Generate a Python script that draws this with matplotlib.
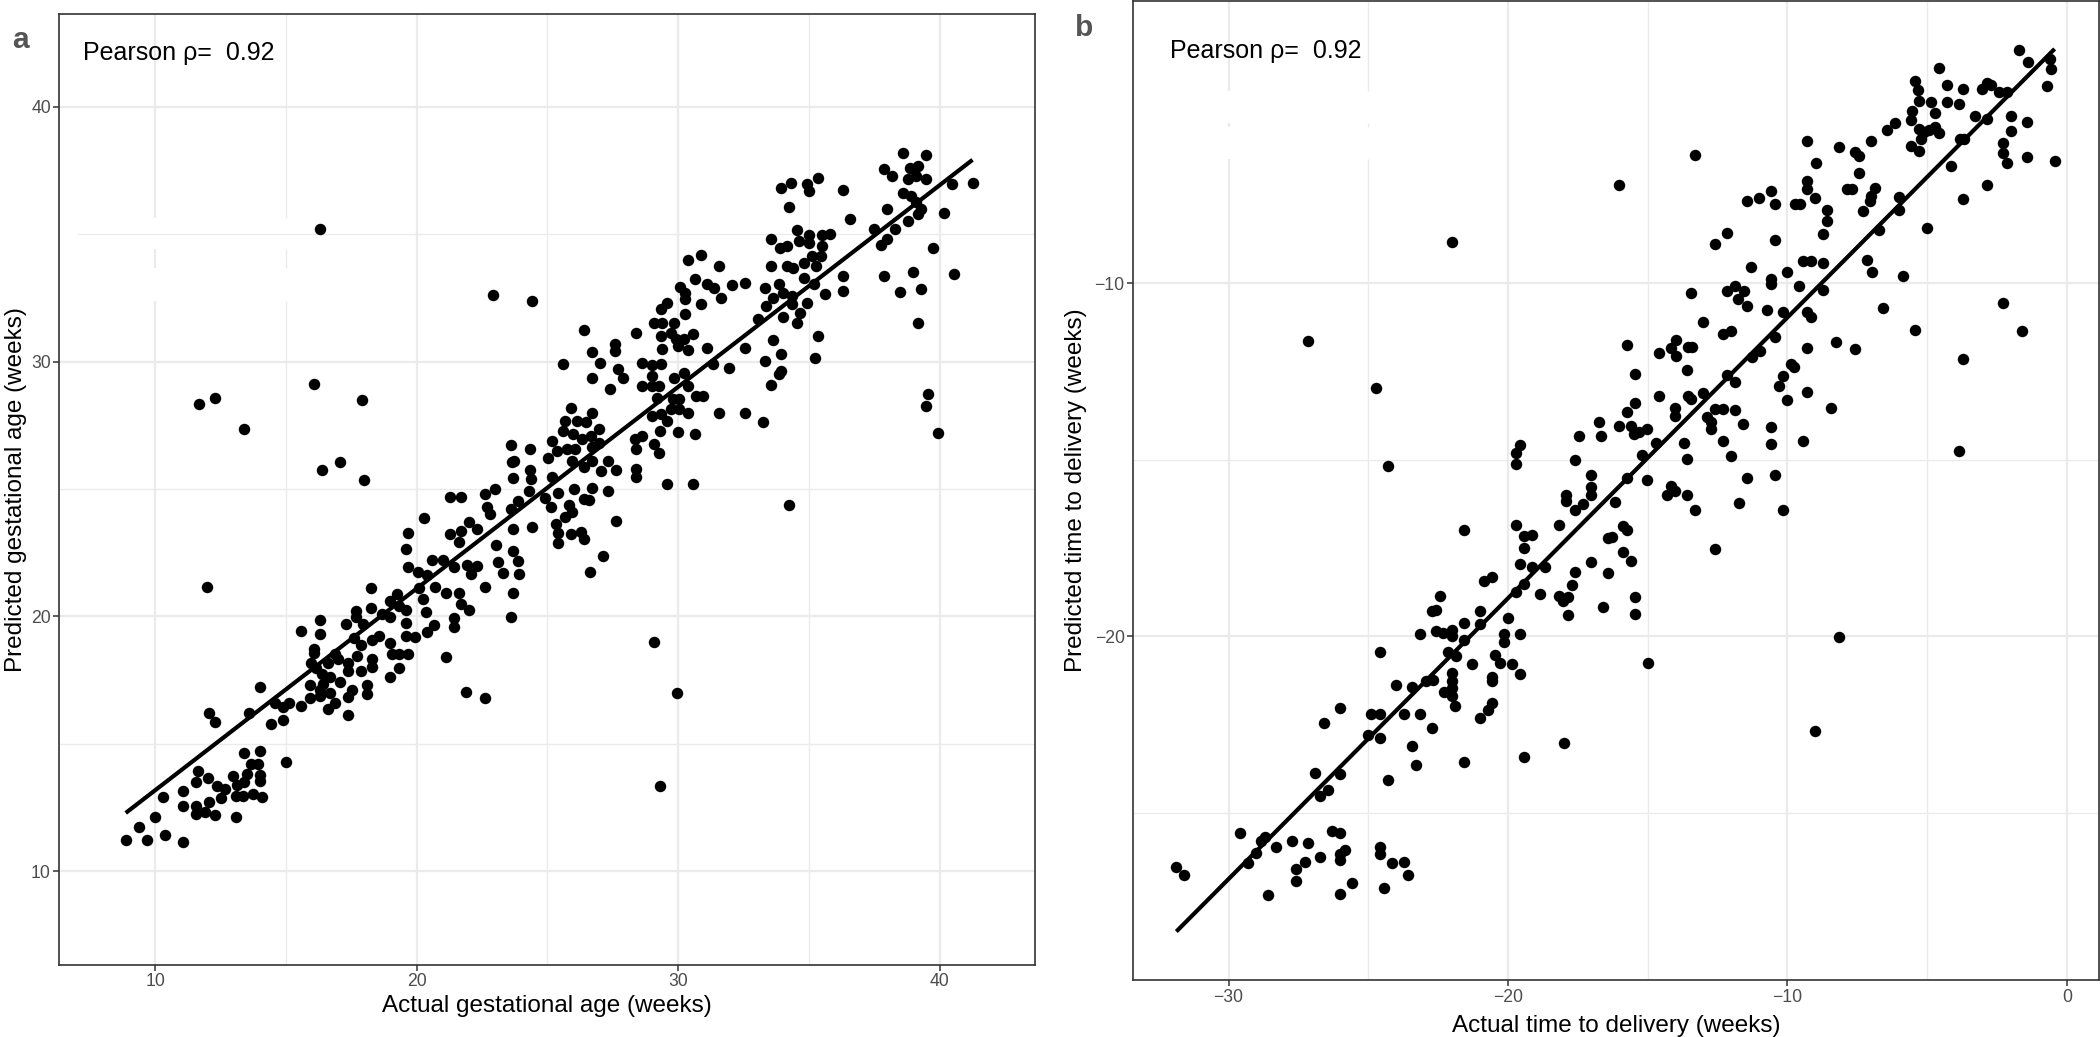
import numpy as np
import matplotlib
matplotlib.use("Agg")
import matplotlib.pyplot as plt

plt.rcParams['font.family'] = ['Liberation Sans', 'DejaVu Sans']

# ---------------- Panel a: gestational age ----------------
a_actual = [
    16.29, 11.68, 12.30, 13.39, 16.09, 17.89, 16.39, 17.08, 17.98, 22.90, 24.41, 23.60, 23.64, 23.71, 23.69,
    38.59, 39.47, 37.89, 38.19, 38.85, 39.17, 38.78, 39.11, 39.47, 40.48, 41.26, 38.59, 38.89, 39.11, 38.00,
    39.30, 39.17, 40.15, 37.48, 38.29, 38.78, 38.00, 37.76, 39.76, 37.89, 38.98, 38.48, 39.28, 40.54, 39.17,
    39.56, 39.47, 39.95,
    33.93, 34.32, 34.91, 35.00, 35.33, 36.30, 34.23, 36.59, 34.54, 33.54, 33.89, 34.15, 35.00, 35.52, 35.82,
    34.61, 35.00, 35.52, 33.54, 34.15, 34.41, 34.80, 35.13, 35.46, 35.26, 34.80, 35.20, 36.30, 36.30, 35.63,
    33.85, 33.34, 34.02, 33.63, 34.35, 33.37, 34.35, 34.93, 34.65, 34.02, 34.54, 33.04, 35.33, 33.63, 35.22,
    32.55, 33.34, 33.92, 33.92, 33.85, 33.54, 33.24,
    30.37, 30.87, 31.55, 30.66, 31.09, 31.39, 32.07, 32.55, 30.07, 30.27, 30.27, 30.87, 31.65, 29.59, 29.33,
    30.27, 29.07, 29.39, 29.85, 28.39, 29.33, 29.72, 29.92, 30.57, 30.24, 29.39, 29.98, 30.37, 31.09, 26.40,
    27.58, 27.58, 26.69, 27.00, 25.61, 28.61, 29.00, 29.33, 27.70, 27.89, 26.69, 27.40, 28.61, 29.00, 29.00,
    29.26, 29.85, 30.24, 30.37, 31.35, 31.94, 29.20, 29.79, 30.05, 30.70, 30.96, 29.00, 29.33, 29.72, 29.59,
    30.05, 30.37, 31.55, 32.55, 29.29, 29.98, 30.66, 28.35, 28.61, 28.39, 29.07, 29.26, 28.39, 28.39, 29.59,
    30.57,
    25.91, 25.68, 26.13, 26.46, 25.61, 25.98, 26.72, 26.98, 26.33, 26.66, 25.16, 24.35, 25.03, 25.35, 25.74,
    26.07, 26.72, 26.98, 25.94, 26.40, 26.72, 27.05, 27.31, 27.63, 24.35, 24.37, 25.16, 26.00, 25.42, 26.72,
    27.31,
    24.90, 25.13, 25.81, 25.94, 25.68, 25.33, 25.42, 25.42, 25.91, 26.30, 26.40, 26.40, 26.59, 27.61, 27.11,
    26.62, 34.24, 29.09, 29.97, 29.29,
    8.87, 9.37, 9.67, 9.99, 10.38, 11.08, 10.29, 11.08, 11.08, 11.57, 11.57, 11.90, 12.28, 12.04, 11.65,
    11.57, 12.03, 12.36, 12.66, 12.53, 13.07, 13.07, 12.99, 13.13, 13.39, 13.50, 13.39, 13.65, 14.01, 14.01,
    14.01, 13.36, 13.72, 14.08, 13.92, 11.98, 12.07, 12.30, 13.59, 14.01, 14.41, 14.58, 14.88, 14.88, 15.11,
    14.99, 15.58, 15.58, 16.29, 16.29, 16.07, 16.07, 15.96, 16.16, 16.36, 15.90, 15.90, 16.29, 16.32, 16.43,
    16.69, 16.69, 16.60, 16.62, 16.89, 17.08, 16.89, 16.99, 17.28, 17.39, 17.39, 17.39, 17.39, 17.51, 17.61,
    17.68, 17.68, 17.70, 17.88, 17.94, 17.88, 18.10, 18.10, 18.27, 18.27, 18.30, 18.30, 18.30, 18.54, 18.69,
    18.99, 18.99, 18.99, 18.99, 19.06, 19.26, 19.33, 19.33, 19.33, 19.59, 19.59, 19.59, 19.66, 19.59, 19.68,
    19.68, 19.92, 20.05, 20.09, 20.25, 20.29, 20.34, 20.38, 20.58, 20.65, 20.71, 20.40, 21.02, 21.11, 21.11,
    21.28, 21.68, 21.28, 21.41, 21.41, 21.41, 21.60, 21.60, 21.70, 21.70, 21.90, 21.99, 21.99, 21.92, 22.07,
    22.30, 22.32, 22.60, 22.60, 22.60, 22.69, 22.82, 22.98, 23.02, 23.11, 23.31, 23.60, 23.67, 23.67, 23.67,
    23.62, 23.88, 23.88, 23.90, 24.29, 24.40,
]
a_predicted = [
    35.19, 28.33, 28.59, 27.35, 29.11, 28.48, 25.75, 26.07, 25.35, 32.63, 32.39, 26.73, 26.04, 26.10, 25.45,
    38.20, 38.10, 37.54, 37.28, 37.61, 37.67, 37.15, 37.28, 37.15, 36.98, 37.02, 36.63, 36.50, 36.27, 36.00,
    35.97, 35.80, 35.84, 35.22, 35.19, 35.50, 34.80, 34.58, 34.47, 33.36, 33.53, 32.75, 32.84, 33.42, 31.53,
    28.72, 28.24, 27.19,
    36.80, 37.02, 36.98, 36.69, 37.22, 36.73, 36.07, 35.58, 35.16, 34.80, 34.47, 34.54, 34.95, 34.97, 34.99,
    34.74, 34.67, 34.54, 33.75, 33.75, 33.69, 33.88, 34.14, 34.14, 33.75, 33.29, 33.03, 33.36, 32.76, 32.64,
    33.06, 32.88, 32.71, 32.51, 32.58, 32.18, 32.25, 32.29, 31.92, 31.73, 31.50, 31.66, 31.01, 30.85, 30.16,
    30.52, 30.03, 30.29, 29.63, 29.50, 29.08, 27.61,
    33.97, 34.17, 33.75, 33.25, 33.03, 32.90, 32.99, 33.10, 32.94, 32.71, 32.47, 32.27, 32.48, 32.29, 32.05,
    31.86, 31.50, 31.53, 31.50, 31.14, 31.01, 31.14, 30.88, 31.07, 30.88, 30.51, 30.61, 30.46, 30.55, 31.23,
    30.68, 30.42, 30.39, 29.93, 29.90, 29.93, 29.87, 29.90, 29.70, 29.37, 29.37, 28.92, 29.05, 29.44, 29.05,
    29.05, 29.37, 29.57, 29.05, 29.90, 29.76, 28.59, 28.52, 28.52, 28.65, 28.65, 27.87, 27.94, 28.13, 27.67,
    28.13, 28.00, 28.00, 28.00, 27.28, 27.22, 27.15, 26.95, 27.08, 26.56, 26.76, 26.43, 25.78, 25.48, 25.19,
    25.19,
    28.16, 27.67, 27.67, 27.61, 27.28, 27.15, 28.00, 27.35, 26.95, 27.08, 26.89, 26.56, 26.21, 26.50, 26.56,
    26.56, 26.63, 26.82, 26.11, 25.86, 26.11, 25.71, 26.11, 25.75, 25.74, 25.39, 25.46, 24.99, 24.86, 25.05,
    24.93,
    24.66, 24.31, 24.38, 24.10, 23.89, 23.61, 23.26, 22.87, 23.24, 23.33, 23.05, 24.59, 24.55, 23.75, 22.38,
    21.76, 24.38, 19.01, 16.99, 13.36,
    11.23, 11.73, 11.23, 12.11, 11.41, 11.14, 12.90, 13.15, 12.55, 12.55, 12.24, 12.34, 12.20, 12.72, 13.92,
    13.50, 13.67, 13.36, 13.22, 12.87, 12.13, 12.94, 13.75, 13.40, 14.64, 13.81, 13.50, 14.20, 14.73, 13.78,
    13.53, 12.96, 13.03, 12.90, 14.20, 21.14, 16.22, 15.87, 16.19, 17.24, 15.77, 16.60, 16.43, 15.94, 16.60,
    14.30, 19.43, 16.50, 19.85, 19.29, 18.73, 18.56, 18.17, 17.96, 17.75, 17.29, 16.78, 17.13, 16.88, 17.34,
    17.64, 16.98, 18.17, 16.36, 16.60, 17.41, 18.52, 18.31, 19.71, 18.17, 17.87, 16.85, 16.15, 17.10, 19.15,
    20.20, 19.99, 18.45, 17.87, 19.71, 18.87, 17.29, 16.95, 21.10, 20.33, 18.31, 18.00, 19.08, 19.22, 20.10,
    19.99, 20.59, 18.94, 17.64, 18.52, 20.89, 20.40, 17.96, 18.52, 19.75, 20.27, 19.22, 18.52, 22.64, 23.29,
    21.94, 19.18, 21.73, 21.10, 20.68, 23.86, 20.17, 19.40, 22.22, 19.67, 21.17, 21.61, 22.22, 20.92, 18.42,
    24.70, 24.70, 23.24, 21.94, 19.94, 19.57, 22.91, 20.92, 20.47, 23.36, 17.02, 23.72, 20.24, 22.00, 21.66,
    21.97, 23.44, 24.80, 21.14, 16.78, 24.31, 24.03, 25.00, 22.80, 22.15, 21.70, 19.99, 20.92, 22.57, 23.44,
    24.20, 24.52, 22.18, 21.66, 24.94, 23.50,
]

# ---------------- Panel b: time to delivery ----------------
b_actual = [
    -21.99, -27.16, -24.73, -19.57, -19.73, -19.73, -24.28,
    -1.71, -1.40, -0.59, -0.56, -0.71, -4.58, -5.44, -5.34, -5.28, -4.29, -4.29, -3.73, -3.86, -3.04,
    -2.86, -2.70, -2.43, -2.13, -4.85, -5.56, -5.58, -4.71, -3.28, -2.86, -2.01, -1.44, -5.28, -5.10,
    -4.95, -4.71, -4.59, -5.22, -5.58, -5.28, -3.83, -3.70, -2.01, -6.15, -6.43, -7.01, -8.15, -9.30,
    -7.60, -7.45, -2.28, -2.28, -2.15, -1.44, -0.44, -4.15, -8.99, -13.31, -16.02, -7.45, -9.30, -9.30,
    -9.01, -2.86, -3.73, -11.45, -11.03, -10.58, -10.45, -9.72, -9.55, -7.88, -7.70, -6.88, -7.00, -7.05,
    -8.58, -8.58, -7.28, -6.00, -6.00, -6.73, -8.73, -5.01, -12.15, -12.58, -10.45, -11.30, -10.58, -10.58,
    -10.00, -9.46, -9.15, -8.73, -7.15, -6.99, -5.86, -9.58, -8.73, -13.45, -12.15, -11.88, -11.55, -11.76,
    -11.45, -10.73, -10.16, -9.30, -9.15, -6.57, -2.29, -1.59, -5.44, -3.73, -13.01, -12.30, -12.02, -10.45,
    -11.00, -11.27, -9.30, -8.28, -7.58, -15.73, -14.60, -14.18, -14.00, -14.00, -13.55, -13.40, -13.60,
    -15.45, -12.15, -11.88, -10.15, -9.88, -9.76, -10.30, -10.00, -9.30, -8.45, -14.60, -13.57, -13.45,
    -13.01, -15.45, -15.73, -16.74, -16.02, -15.60, -15.48, -15.33, -15.02, -16.69, -17.45, -14.02, -14.02,
    -12.88, -12.72, -12.72, -12.58, -12.30, -11.88, -11.58, -12.30, -12.02, -13.72, -13.60, -14.72, -15.21,
    -15.73, -15.02, -17.02, -17.02, -17.02, -17.59, -10.58, -10.58, -9.46, -11.45, -10.45, -14.18, -13.60,
    -3.85,
    -31.87, -31.58, -29.58, -29.31, -29.01, -28.85, -28.71, -28.58, -28.29, -27.72, -27.58, -27.58, -27.28,
    -27.16, -26.72, -26.89, -26.59, -26.74, -26.44, -26.30, -26.00, -26.00, -26.00, -26.00, -26.00, -25.85,
    -26.00, -25.58, -25.01, -24.89, -24.57, -24.57, -24.57, -24.57, -24.57, -24.44, -24.28, -24.15, -24.00,
    -23.72, -23.72, -23.58, -23.44, -23.44, -23.28, -23.16, -23.16, -22.92, -22.68, -22.72, -22.71, -22.57,
    -22.45, -22.59, -22.30, -22.15, -22.00, -22.00, -22.00, -21.89, -21.59, -21.59, -21.59, -21.29, -21.01,
    -20.99, -20.87, -20.57, -20.72, -20.57, -20.57, -20.45, -20.30, -20.16, -20.00, -19.86, -19.73, -19.73,
    -19.58, -19.58, -19.58, -19.43, -19.44, -19.44, -19.43, -19.13, -19.13, -18.87, -18.69, -18.17, -18.17,
    -18.00, -17.91, -17.85, -17.61, -17.61, -22.33, -22.00, -22.00, -22.00, -21.85, -21.58, -20.99, -20.57,
    -20.16, -17.91, -17.85, -18.03, -17.71,
    -17.32, -16.17, -14.30, -14.02, -13.31, -11.72, -10.16, -15.90, -15.73, -16.44, -16.29, -15.87, -15.59,
    -17.02, -16.44, -16.60, -15.45, -15.45, -12.60, -15.00, -8.15, -9.01,
]
b_predicted = [
    -8.82, -11.64, -12.96, -14.59, -14.81, -15.11, -15.19,
    -3.40, -3.73, -3.65, -3.92, -4.42, -3.89, -4.26, -4.52, -4.83, -4.39, -4.86, -4.48, -4.92, -4.48,
    -4.31, -4.39, -4.58, -4.58, -4.86, -5.11, -5.37, -5.16, -5.25, -5.33, -5.25, -5.44, -5.63, -5.70,
    -5.65, -5.58, -5.73, -5.92, -6.12, -6.25, -5.90, -5.92, -5.68, -5.47, -5.66, -5.96, -6.13, -5.97,
    -6.27, -6.38, -6.01, -6.32, -6.60, -6.43, -6.54, -6.67, -6.60, -6.36, -7.20, -6.86, -7.09, -7.34,
    -7.57, -7.20, -7.61, -7.68, -7.57, -7.38, -7.74, -7.74, -7.74, -7.33, -7.33, -7.31, -7.52, -7.66,
    -7.92, -8.24, -7.96, -7.54, -7.92, -8.48, -8.60, -8.42, -8.58, -8.89, -8.76, -9.55, -9.88, -10.02,
    -9.69, -9.36, -9.36, -9.42, -9.34, -9.67, -9.78, -10.07, -10.18, -10.28, -10.23, -10.08, -10.23, -10.44,
    -10.63, -10.77, -10.82, -10.82, -10.96, -10.71, -10.57, -11.34, -11.31, -12.14, -11.10, -11.43, -11.34, -11.51,
    -11.93, -12.09, -11.83, -11.67, -11.86, -11.75, -11.98, -11.83, -11.62, -12.06, -11.81, -11.81, -12.47,
    -12.57, -12.59, -12.80, -12.63, -12.28, -12.37, -12.92, -13.32, -13.08, -13.54, -13.20, -13.18, -13.27,
    -13.10, -13.40, -13.65, -13.93, -14.03, -14.03, -14.27, -14.22, -14.12, -14.34, -14.34, -13.53, -13.75,
    -13.79, -13.93, -14.14, -13.56, -13.56, -13.58, -13.98, -14.48, -14.88, -14.53, -14.97, -14.53, -14.86,
    -15.51, -15.57, -15.42, -15.77, -16.00, -15.02, -14.06, -14.55, -14.48, -15.52, -15.42, -15.73, -16.00,
    -14.76,
    -26.55, -26.77, -25.58, -26.43, -26.14, -25.81, -25.69, -27.32, -25.97, -25.79, -26.59, -26.94, -26.41,
    -25.86, -26.26, -23.87, -22.47, -24.53, -24.36, -25.53, -25.58, -22.02, -23.89, -26.16, -26.34, -26.06,
    -27.30, -26.99, -22.80, -22.19, -22.19, -22.88, -20.45, -25.98, -26.18, -27.14, -24.07, -26.43, -21.38,
    -22.19, -26.39, -26.77, -21.44, -23.10, -23.64, -19.95, -22.19, -21.26, -21.23, -22.61, -19.29, -19.26,
    -18.86, -19.85, -21.57, -20.45, -19.83, -21.04, -21.46, -21.97, -17.00, -19.63, -23.57, -20.78, -19.29,
    -22.32, -18.43, -18.31, -22.09, -21.89, -21.16, -20.53, -20.76, -19.95, -19.47, -20.78, -18.76, -16.85,
    -17.96, -19.95, -21.06, -23.43, -17.49, -17.17, -18.52, -17.12, -18.03, -18.79, -18.03, -16.85, -18.87,
    -23.03, -15.99, -19.39, -16.41, -18.18, -19.92, -19.98, -21.26, -21.69, -20.56, -20.10, -19.65, -21.26,
    -20.17, -16.16, -18.89, -18.99, -18.54,
    -16.26, -16.19, -16.01, -15.89, -16.41, -16.23, -16.41, -16.87, -17.00, -17.22, -17.20, -17.60, -17.86,
    -17.91, -18.21, -19.18, -18.89, -19.38, -17.53, -20.76, -20.02, -22.68,
]

pearson_label = "Pearson \u03c1=  0.92"

# axis limits / ticks
A_XLIM, A_YLIM = (6.33, 43.66), (6.32, 43.64)
B_XLIM, B_YLIM = (-33.42, 1.13), (-29.75, -2.0)
A_MAJOR, A_MINOR = [10, 20, 30, 40], [15, 25, 35]
B_XMAJOR, B_XMINOR = [-30, -20, -10, 0], [-25, -15, -5]
B_YMAJOR, B_YMINOR = [-20, -10], [-25, -15]

GRID = '#EBEBEB'
SPINE = '#333333'
W, H = 2100, 1037
PT_SIZE = 68
LINE_W = 3.0

fig = plt.figure(figsize=(W / 100, H / 100), dpi=100)
axA = fig.add_axes([59.3 / W, 1 - 965 / H, (1035.3 - 59.3) / W, (965 - 14) / H])
axB = fig.add_axes([1133 / W, 1 - 980.3 / H, (2098.5 - 1133) / W, (980.3 - 1) / H])


def vline(ax, x, lw, segs):
    for s0, s1 in segs:
        ax.vlines(x, s0, s1, color=GRID, lw=lw, zorder=0.5)


def hline(ax, y, lw, segs):
    for s0, s1 in segs:
        ax.hlines(y, s0, s1, color=GRID, lw=lw, zorder=0.5)


def style(ax, xlim, ylim):
    ax.set_xlim(*xlim)
    ax.set_ylim(*ylim)
    for s in ax.spines.values():
        s.set_color(SPINE)
        s.set_linewidth(1.2)
    ax.tick_params(length=4, width=1.1, color=SPINE, labelsize=12.7,
                   labelcolor='#4D4D4D', pad=2)


# ---- panel a
style(axA, A_XLIM, A_YLIM)
full_y = [A_YLIM]
full_x = [A_XLIM]
broken_a = [(A_YLIM[0], 32.38), (33.69, 34.41), (35.65, A_YLIM[1])]
for v in A_MAJOR:
    vline(axA, v, 1.6, broken_a if v == 10 else full_y)
    hline(axA, v, 1.6, full_x)
for v in A_MINOR:
    vline(axA, v, 1.0, broken_a if v == 15 else full_y)
    hline(axA, v, 1.0, [(7.06, A_XLIM[1])] if v == 35 else full_x)

xa, ya = np.array(a_actual), np.array(a_predicted)
axA.scatter(xa, ya, s=PT_SIZE, c='black', linewidths=0, zorder=2)
ma, ca = np.polyfit(xa, ya, 1)
xs = np.array([xa.min(), xa.max()])
axA.plot(xs, ma * xs + ca, color='black', lw=LINE_W, zorder=3, solid_capstyle='butt')
axA.set_xticks(A_MAJOR)
axA.set_yticks(A_MAJOR)
axA.set_xlabel('Actual gestational age (weeks)', fontsize=17.5)
axA.set_ylabel('Predicted gestational age (weeks)', fontsize=17.5)
axA.xaxis.set_label_coords(0.5, -0.032)
axA.yaxis.set_label_coords(-0.033, 0.5)
axA.text(7.22, 41.83, pearson_label, fontsize=18, ha='left', va='baseline')

# ---- panel b
style(axB, B_XLIM, B_YLIM)
broken_b = [(B_YLIM[0], -6.48), (-5.58, -5.46), (-4.55, B_YLIM[1])]
for v in B_XMAJOR:
    vline(axB, v, 1.6, broken_b if v == -30 else [B_YLIM])
for v in B_XMINOR:
    vline(axB, v, 1.0, broken_b if v == -25 else [B_YLIM])
for v in B_YMAJOR:
    hline(axB, v, 1.6, [B_XLIM])
for v in B_YMINOR:
    hline(axB, v, 1.0, [B_XLIM])

xb, yb = np.array(b_actual), np.array(b_predicted)
axB.scatter(xb, yb, s=PT_SIZE, c='black', linewidths=0, zorder=2)
mb, cb = np.polyfit(xb, yb, 1)
xs = np.array([xb.min(), xb.max()])
axB.plot(xs, mb * xs + cb, color='black', lw=LINE_W, zorder=3, solid_capstyle='butt')
axB.set_xticks(B_XMAJOR)
axB.set_yticks(B_YMAJOR)
axB.set_xlabel('Actual time to delivery (weeks)', fontsize=17.5)
axB.set_ylabel('Predicted time to delivery (weeks)', fontsize=17.5)
axB.xaxis.set_label_coords(0.5, -0.035)
axB.yaxis.set_label_coords(-0.0476, 0.5)
axB.text(-32.11, -3.62, pearson_label, fontsize=18, ha='left', va='baseline')

# panel tags
fig.text(12 / W, 1 - 48 / H, 'a', fontsize=21.5, fontweight='bold', color='#555555',
         ha='left', va='baseline')
fig.text(1075 / W, 1 - 36 / H, 'b', fontsize=21.5, fontweight='bold', color='#555555',
         ha='left', va='baseline')

fig.savefig('out.png', dpi=100)
